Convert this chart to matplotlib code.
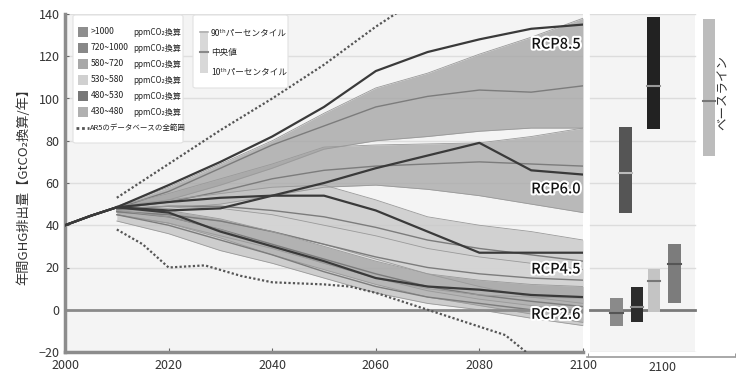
import numpy as np
import matplotlib
matplotlib.use("Agg")
import matplotlib.pyplot as plt
import matplotlib.patheffects as pe
from matplotlib.patches import FancyBboxPatch, Rectangle
from matplotlib.lines import Line2D

plt.rcParams["font.family"] = ["Noto Sans CJK JP", "DejaVu Sans"]

# ---- data ----
years = [2010, 2020, 2030, 2040, 2050, 2060, 2070, 2080, 2090, 2100]

# 10th / 90th percentile and median by concentration category
c1000_lo = [47, 52, 59, 67, 76, 80, 82, 84.5, 86, 86]
c1000_hi = [49, 58, 69, 80, 93, 105, 112, 121, 129, 138]
c1000_med = [48, 56, 67, 78, 87, 96, 101, 104, 103, 106]

c720_lo = [47, 48, 50, 54, 58, 59, 57, 54, 50, 46]
c720_hi = [49, 55, 62, 69, 77, 78, 78.5, 79, 82, 86]
c720_med = [48, 51, 56, 62, 66, 68, 69, 70, 69, 68]

c580_lo = [46, 45, 42, 37, 31, 24, 17, 11, 6, 3]
c580_hi = [49, 52, 55, 58, 59, 52, 44, 40, 37, 33]
c580_med = [47.5, 49, 49, 47, 44, 39, 33, 29, 26, 23]

c530_lo = [45, 41, 35, 29, 22, 15, 9, 5, 2, -1]
c530_hi = [48, 49, 48, 45, 40, 35, 29, 25, 22, 19]
c530_med = [46.5, 45, 42, 37, 31, 25, 20, 17, 15, 14]

c480_lo = [45, 41, 34, 26, 19, 12, 6, 2, -2, -6]
c480_hi = [48, 47, 43, 37, 30, 23, 17, 14, 12, 11]
c480_med = [46.5, 44, 38, 31, 24, 17, 11, 7, 4, 1.5]

c430_lo = [42, 36, 28, 22, 15, 8, 3, 0, -4, -7.5]
c430_hi = [47, 44, 38, 30, 22, 15, 10, 7, 6, 5.5]
c430_med = [45, 40, 33, 26, 18, 11, 6, 3, 0, -1.5]

rcp_years = [2000, 2005, 2010, 2020, 2030, 2040, 2050, 2060, 2070, 2080, 2090, 2100]
rcp85 = [40, 44.5, 48.5, 59, 70, 82, 96, 113, 122, 128, 133, 135]
rcp60 = [40, 44.5, 48.5, 47, 48, 54, 60, 67, 73, 79, 66, 64]
rcp45 = [40, 44.5, 48.5, 51, 53, 54, 54, 47, 37, 27, 27, 27]
rcp26 = [40, 44.5, 48.5, 46, 37, 30, 23, 15, 11, 9.5, 7, 6]

db_hi_years = [2010, 2020, 2030, 2040, 2050, 2060, 2070]
db_hi = [53, 69, 85, 100, 116, 134, 150]
db_lo_years = [2010, 2015, 2020, 2027, 2034, 2040, 2050, 2055, 2060, 2070, 2080, 2085, 2090]
db_lo = [38, 31, 20, 21, 16, 13, 12, 11, 8, 0, -8, -12, -22]

# 2100 ranges (right panel)
bar_names = ["430~480", "480~530", "530~580", "580~720", "720~1000", ">1000", "ベースライン"]
bar_lo = [-7.6, -5.7, -0.9, 3.3, 45.9, 85.7, 72.9]
bar_hi = [5.7, 10.9, 19.4, 31.2, 86.6, 138.7, 137.4]
bar_med = [-1.4, 1.4, 13.7, 21.8, 64.9, 106, 99]

legend_names = [">1000", "720~1000", "580~720", "530~580", "480~530", "430~480"]
rcp_names = ["RCP8.5", "RCP6.0", "RCP4.5", "RCP2.6"]
rcp_label_y = [125.5, 57, 19, -2.4]

# ---- figure ----
W, H = 740, 384
fig = plt.figure(figsize=(W / 100, H / 100), dpi=100)
ax = fig.add_axes([65 / W, 32 / H, 518 / W, 338 / H])
ax2 = fig.add_axes([587 / W, 32 / H, 148 / W, 338 / H])

ax.set_facecolor("#f4f4f4")
for y in range(-20, 141, 20):
    ax.axhline(y, color="#dedede", lw=1, zorder=0)

bands = [
    (c1000_lo, c1000_hi, c1000_med, "#a2a2a2", 0.75),
    (c720_lo, c720_hi, c720_med, "#a6a6a6", 0.75),
    (c580_lo, c580_hi, c580_med, "#c6c6c6", 0.75),
    (c530_lo, c530_hi, c530_med, "#d6d6d6", 0.7),
    (c480_lo, c480_hi, c480_med, "#8e8e8e", 0.55),
    (c430_lo, c430_hi, c430_med, "#b4b4b4", 0.6),
]
for lo, hi, med, col, a in bands:
    ax.fill_between(years, lo, hi, color=col, alpha=a, lw=0, zorder=2)
    ax.plot(years, lo, color="#9a9a9a", lw=0.6, zorder=3)
    ax.plot(years, hi, color="#9a9a9a", lw=0.6, zorder=3)
    ax.plot(years, med, color="#7c7c7c", lw=1.0, zorder=3)

ax.axhline(0, color="#8a8a8a", lw=2, zorder=4)

for r in [rcp85, rcp60, rcp45, rcp26]:
    ax.plot(rcp_years, r, color="#3a3a3a", lw=1.6, zorder=5)

ax.plot(db_hi_years, db_hi, color="#555555", lw=1.6, ls=(0, (1, 1)), zorder=5)
ax.plot(db_lo_years, db_lo, color="#555555", lw=1.6, ls=(0, (1, 1)), zorder=5)

for name, yv in zip(rcp_names, rcp_label_y):
    ax.text(2099.5, yv, name, ha="right", va="center", fontsize=10.5,
            color="#111111", fontweight="medium", zorder=6,
            path_effects=[pe.withStroke(linewidth=3, foreground="white")])

ax.set_xlim(2000, 2100)
ax.set_ylim(-20, 140)
ax.set_xticks(range(2000, 2101, 20))
ax.set_yticks(range(-20, 141, 20))
ax.tick_params(axis="both", direction="in", length=3, color="#666666",
               labelsize=9, labelcolor="#333333")
ax.tick_params(axis="x", pad=5)
ax.tick_params(axis="y", pad=4)
for s in ["top", "right"]:
    ax.spines[s].set_visible(False)
for s in ["left", "bottom"]:
    ax.spines[s].set_color("#8c8c8c")
    ax.spines[s].set_linewidth(2.5)
ax.set_ylabel("年間GHG排出量【GtCO₂換算/年】", fontsize=9.5, color="#333333", labelpad=6)

# ---- right panel ----
ax2.set_xlim(0, 148)
ax2.set_ylim(-20, 140)
ax2.axvspan(3, 108, color="#f4f4f4", lw=0, zorder=0)
for y in range(-20, 141, 20):
    ax2.plot([3, 108], [y, y], color="#dcdcdc", lw=1, zorder=1)
ax2.plot([3, 108], [0, 0], color="#7a7a7a", lw=2, zorder=1)

bar_x = [29.5, 50, 67, 87.5, 38.5, 66.5, 122]
bar_col = ["#8a8a8a", "#2c2c2c", "#c4c4c4", "#7c7c7c", "#555555", "#222222", "#bcbcbc"]
med_col = ["#555555", "#888888", "#777777", "#555555", "#bbbbbb", "#999999", "#777777"]
bw = 12.5
for xc, lo, hi, md, fc, mc in zip(bar_x, bar_lo, bar_hi, bar_med, bar_col, med_col):
    ax2.add_patch(Rectangle((xc - bw / 2, lo), bw, hi - lo, fc=fc, ec="none", zorder=3))
    ax2.plot([xc - bw / 2, xc + bw / 2], [md, md], color=mc, lw=1.5, zorder=4)

ax2.text(136, 103, bar_names[-1], rotation=90, ha="center", va="center",
         fontsize=9, color="#333333")

ax2.set_yticks([])
ax2.set_xticks([75])
ax2.set_xticklabels(["2100"])
ax2.tick_params(axis="x", length=0, labelsize=9, labelcolor="#333333", pad=3)
ax2.set_xticks([0.5, 147.5], minor=True)
ax2.tick_params(axis="x", which="minor", direction="in", length=3, color="#888888")
for s in ["top", "right", "left"]:
    ax2.spines[s].set_visible(False)
ax2.spines["bottom"].set_position(("data", -22.5))
ax2.spines["bottom"].set_color("#999999")
ax2.spines["bottom"].set_linewidth(1.2)
ax2.patch.set_alpha(0)


# ---- legends (drawn in figure pixels) ----
def fx(px):
    return px / W


def fy(py):
    return 1 - py / H


def box(x0, y0, x1, y1):
    fig.add_artist(FancyBboxPatch((fx(x0), fy(y1)), fx(x1) - fx(x0), (y1 - y0) / H,
                                  boxstyle="round,pad=0,rounding_size=0.004",
                                  transform=fig.transFigure, fc="white",
                                  ec="#e2e2e2", lw=0.8, zorder=10))


leg_col = ["#8e8e8e", "#888888", "#a8a8a8", "#d0d0d0", "#777777", "#b0b0b0"]
box(73, 15, 183, 143)
for i, (name, col) in enumerate(zip(legend_names, leg_col)):
    yc = 32 + 16 * i
    fig.add_artist(Rectangle((fx(78), fy(yc + 5)), 10 / W, 10 / H, fc=col, ec="none",
                             transform=fig.transFigure, zorder=11))
    fig.text(fx(91), fy(yc), name, fontsize=6.2, va="center", color="#222222", zorder=11)
    fig.text(fx(133), fy(yc), "ppmCO₂換算", fontsize=5.8, va="center",
             color="#222222", zorder=11)
fig.add_artist(Line2D([fx(76), fx(89)], [fy(128), fy(128)], color="#555555", lw=2,
                      ls=(0, (1, 1)), transform=fig.transFigure, zorder=11))
fig.text(fx(90), fy(128), "AR5のデータベースの全範囲", fontsize=5.4, va="center",
         color="#222222", zorder=11)

box(193, 15, 288, 88)
fig.add_artist(Rectangle((fx(200), fy(73)), 8 / W, 42 / H, fc="#d8d8d8", ec="none",
                         transform=fig.transFigure, zorder=11))
fig.add_artist(Line2D([fx(200), fx(208)], [fy(32), fy(32)], color="#b0b0b0", lw=1.2,
                      transform=fig.transFigure, zorder=12))
fig.add_artist(Line2D([fx(200), fx(208)], [fy(52), fy(52)], color="#888888", lw=1.5,
                      transform=fig.transFigure, zorder=12))
for yc, t in zip([33, 52, 72], ["90ᵗʰパーセンタイル", "中央値", "10ᵗʰパーセンタイル"]):
    fig.text(fx(211), fy(yc), t, fontsize=6.2, va="center", color="#222222", zorder=11)

fig.savefig("out.png", dpi=100, facecolor="white")
